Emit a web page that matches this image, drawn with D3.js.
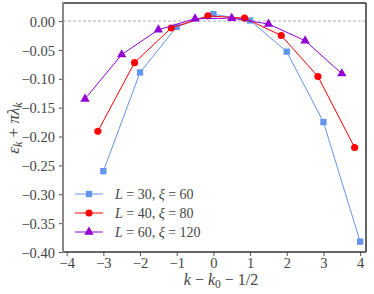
<!DOCTYPE html>
<html>
<head>
<meta charset="utf-8">
<script src="https://cdn.jsdelivr.net/npm/d3@7"></script>
<style>
body { margin: 0; background: #fff; }
text { fill: #444; }
</style>
</head>
<body>
<div id="chart"></div>
<script>
// series values
var x_30 = [-3, -2, -1, 0, 1, 2, 3, 4];
var y_30 = [-0.260, -0.089, -0.010, 0.012, 0.001, -0.053, -0.175, -0.382];
var x_40 = [-3.15, -2.15, -1.15, -0.15, 0.85, 1.85, 2.85, 3.85];
var y_40 = [-0.191, -0.072, -0.012, 0.009, 0.005, -0.025, -0.096, -0.219];
var x_60 = [-3.5, -2.5, -1.5, -0.5, 0.5, 1.5, 2.5, 3.5];
var y_60 = [-0.135, -0.058, -0.015, 0.004, 0.005, -0.005, -0.034, -0.091];

var x_ticks = [-4, -3, -2, -1, 0, 1, 2, 3, 4];
var y_ticks = [0, -0.05, -0.10, -0.15, -0.20, -0.25, -0.30, -0.35, -0.40];

var series = [
    { name: ["L", " = 30, ", "ξ", " = 60"], xs: x_30, ys: y_30, color: "#6495ED", marker: "square" },
    { name: ["L", " = 40, ", "ξ", " = 80"], xs: x_40, ys: y_40, color: "#FF0000", marker: "circle" },
    { name: ["L", " = 60, ", "ξ", " = 120"], xs: x_60, ys: y_60, color: "#9400D3", marker: "triangle" }
];

var chart_width = 374;
var chart_height = 294;
var m_left = 63, m_right = 366, m_top = 3, m_bottom = 252;
var serif = "Liberation Serif";

var svg = d3.select("#chart")
    .append("svg")
    .attr("width", chart_width)
    .attr("height", chart_height)
    .attr("font-family", serif);

var x_scale = d3.scaleLinear().domain([-4.1, 4.16]).range([m_left, m_right]);
var y_scale = d3.scaleLinear().domain([-0.40, 0.0313]).range([m_bottom, m_top]);

var minus = function(s){ return s.replace("-", "\u2212"); };

// axes
var x_axis = d3.axisBottom(x_scale)
    .tickValues(x_ticks)
    .tickSize(4)
    .tickFormat(function(d){ return minus(d3.format("d")(d)); });
var y_axis = d3.axisLeft(y_scale)
    .tickValues(y_ticks)
    .tickSize(4)
    .tickFormat(function(d){ return minus(d3.format(".2f")(d)); });

var gx = svg.append("g")
    .attr("transform", "translate(0," + m_bottom + ")")
    .call(x_axis);
var gy = svg.append("g")
    .attr("transform", "translate(" + m_left + ",0)")
    .call(y_axis);

[gx, gy].forEach(function(g){
    g.attr("font-family", serif).attr("font-size", 14.5);
    g.select(".domain").remove();
    g.selectAll(".tick line").attr("stroke", "#555").attr("stroke-width", 1);
    g.selectAll(".tick text").attr("fill", "#444");
});
gx.selectAll(".tick text").attr("dy", "0.6em");
gy.selectAll(".tick text").attr("dx", "-1px").attr("dy", "0.35em");

// zero reference line
svg.append("line")
    .attr("x1", m_left).attr("x2", m_right)
    .attr("y1", y_scale(0)).attr("y2", y_scale(0))
    .attr("stroke", "#999")
    .attr("stroke-width", 0.8)
    .attr("stroke-dasharray", "3,2");

// spines
svg.append("line").attr("x1", m_left).attr("x2", m_right).attr("y1", m_top).attr("y2", m_top)
    .attr("stroke", "#333").attr("stroke-width", 1.5);
svg.append("line").attr("x1", m_right).attr("x2", m_right).attr("y1", m_top).attr("y2", m_bottom)
    .attr("stroke", "#333").attr("stroke-width", 1.5);
svg.append("line").attr("x1", m_left).attr("x2", m_right).attr("y1", m_bottom).attr("y2", m_bottom)
    .attr("stroke", "#333").attr("stroke-width", 1.5);
svg.append("line").attr("x1", m_left).attr("x2", m_left).attr("y1", m_top - 0.75).attr("y2", m_bottom + 0.75)
    .attr("stroke", "#888").attr("stroke-width", 2);

var symbols = {
    square: d3.symbol().type(d3.symbolSquare).size(40),
    circle: d3.symbol().type(d3.symbolCircle).size(40),
    triangle: d3.symbol().type(d3.symbolTriangle).size(38)
};

var line = d3.line()
    .x(function(d){ return x_scale(d[0]); })
    .y(function(d){ return y_scale(d[1]); });

series.forEach(function(s){
    var pts = s.xs.map(function(x, i){ return [x, s.ys[i]]; });
    svg.append("path")
        .attr("d", line(pts))
        .attr("fill", "none")
        .attr("stroke", s.color)
        .attr("stroke-width", 1);
    svg.selectAll(null)
        .data(pts)
        .enter()
        .append("path")
        .attr("d", symbols[s.marker])
        .attr("transform", function(d){
            return "translate(" + x_scale(d[0]) + "," + y_scale(d[1]) + ")";
        })
        .attr("fill", s.color);
});

// legend
var legend = svg.append("g");
series.forEach(function(s, i){
    var y = 194 + i * 19;
    legend.append("line")
        .attr("x1", 75).attr("x2", 103).attr("y1", y).attr("y2", y)
        .attr("stroke", s.color).attr("stroke-width", 1);
    legend.append("path")
        .attr("d", symbols[s.marker])
        .attr("transform", "translate(89," + y + ")")
        .attr("fill", s.color);
    var t = legend.append("text")
        .attr("x", 115).attr("y", y + 4.5)
        .style("font-size", "14px");
    s.name.forEach(function(part, j){
        t.append("tspan").text(part).style("font-style", j % 2 === 0 ? "italic" : "normal");
    });
});

// x label
var xl = svg.append("text")
    .attr("x", 221).attr("y", 285)
    .attr("text-anchor", "middle")
    .style("font-size", "16px");
xl.append("tspan").text("k").style("font-style", "italic");
xl.append("tspan").text(" \u2212 ");
xl.append("tspan").text("k").style("font-style", "italic");
xl.append("tspan").text("0").attr("dy", 3).style("font-size", "11.5px");
xl.append("tspan").text(" \u2212 1/2").attr("dy", -3);

// y label
var yl = svg.append("text")
    .attr("transform", "translate(19,128) rotate(-90)")
    .attr("text-anchor", "middle")
    .style("font-size", "17px");
yl.append("tspan").text("ε").style("font-style", "italic");
yl.append("tspan").text("k").attr("dy", 3).style("font-size", "12px").style("font-style", "italic");
yl.append("tspan").text(" + ").attr("dy", -3);
yl.append("tspan").text("πλ").style("font-style", "italic");
yl.append("tspan").text("k").attr("dy", 3).style("font-size", "12px").style("font-style", "italic");
</script>
</body>
</html>
